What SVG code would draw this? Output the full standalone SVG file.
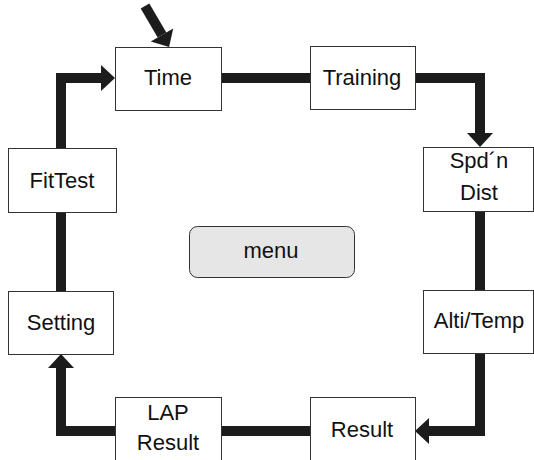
<svg xmlns="http://www.w3.org/2000/svg" width="534" height="460" viewBox="0 0 534 460">
<defs>
<style>
.box{fill:#ffffff;stroke:#333333;stroke-width:1}
.menu{fill:#e6e6e6;stroke:#333333;stroke-width:1}
.lbl{font-family:"Liberation Sans",Arial,sans-serif;font-size:22px;fill:#111111;text-anchor:middle}
.con{fill:none;stroke:#1c1c1c;stroke-width:10;stroke-linejoin:miter;stroke-linecap:butt}
</style>
<marker id="ah" markerUnits="userSpaceOnUse" markerWidth="15" markerHeight="26" refX="0" refY="13" orient="auto" overflow="visible">
<path d="M0,0 L14,13 L0,26 Z" fill="#1c1c1c"/>
</marker>
</defs>
<rect width="534" height="460" fill="#ffffff"/>
<g id="connectors">
<line class="con" x1="221" y1="78" x2="310" y2="78"/>
<polyline class="con" points="415,78 480,78 480,133" marker-end="url(#ah)"/>
<line class="con" x1="480" y1="211" x2="480" y2="290"/>
<polyline class="con" points="480,353 480,431 429,431" marker-end="url(#ah)"/>
<line class="con" x1="310" y1="431" x2="221" y2="431"/>
<polyline class="con" points="115,431 61,431 61,368" marker-end="url(#ah)"/>
<line class="con" x1="61" y1="291" x2="61" y2="212"/>
<polyline class="con" points="61,148 61,78 101,78" marker-end="url(#ah)"/>
<line class="con" x1="145" y1="6" x2="162" y2="35" marker-end="url(#ah)"/>
</g>
<g id="time"><rect class="box" x="115.5" y="47.5" width="106" height="63"/><text class="lbl" x="168" y="85">Time</text></g>
<g id="training"><rect class="box" x="310.5" y="46.5" width="105" height="63"/><text class="lbl" x="362" y="85">Training</text></g>
<g id="spdn-dist"><rect class="box" x="423.5" y="147.5" width="110" height="64"/><text class="lbl" x="479" y="168">Spd´n</text><text class="lbl" x="479" y="200">Dist</text></g>
<g id="alti-temp"><rect class="box" x="423.5" y="290.5" width="110" height="63"/><text class="lbl" x="479" y="328">Alti/Temp</text></g>
<g id="result"><rect class="box" x="310.5" y="397.5" width="105" height="70"/><text class="lbl" x="362" y="437">Result</text></g>
<g id="lap-result"><rect class="box" x="115.5" y="397.5" width="106" height="70"/><text class="lbl" x="168" y="420">LAP</text><text class="lbl" x="168" y="450">Result</text></g>
<g id="setting"><rect class="box" x="8.5" y="291.5" width="105" height="63"/><text class="lbl" x="61" y="330">Setting</text></g>
<g id="fittest"><rect class="box" x="8.5" y="148.5" width="108" height="64"/><text class="lbl" x="62" y="188">FitTest</text></g>
<g id="menu"><rect class="menu" x="189.5" y="226.5" width="165" height="51" rx="8" ry="8"/><text class="lbl" x="271" y="258">menu</text></g>
</svg>
